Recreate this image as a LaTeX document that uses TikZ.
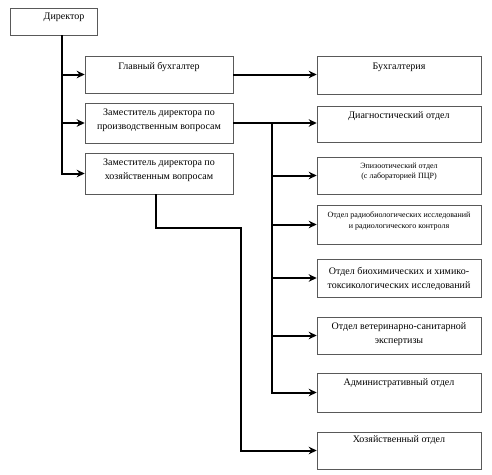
\documentclass[tikz,border=0pt]{standalone}
\usepackage{fontspec}
\setmainfont{Liberation Serif}
\usetikzlibrary{arrows.meta}
\tikzset{
  box/.style={draw=black!65, line width=0.6pt, fill=white, inner sep=0pt},
  txt/.style={anchor=north, inner sep=0pt, align=center, font=\fontsize{10}{14}\selectfont},
  smalltxt/.style={anchor=north, inner sep=0pt, align=center, font=\fontsize{8}{10.5}\selectfont},
  conn/.style={line width=2pt, line cap=butt, line join=miter},
  arr/.style={conn, -{Stealth[length=8pt,width=7.5pt]}}
}
\begin{document}
\begin{tikzpicture}[x=1pt,y=-1pt]
\useasboundingbox (0,0) rectangle (492,474);
% left column
\node[box, minimum width=87pt, minimum height=27pt] (dir) at (53.5,21.5) {};
\node[txt] (dirt) at ([xshift=10.5pt,yshift=-5pt]dir.north) {Директор};
\node[box, minimum width=148pt, minimum height=37pt] (gb) at (159,74.5) {};
\node[txt] (gbt) at ([yshift=-6pt]gb.north) {Главный бухгалтер};
\node[box, minimum width=148pt, minimum height=40pt] (zp) at (159,123) {};
\node[txt] (zpt) at ([yshift=-6pt]zp.north) {Заместитель директора по\\производственным вопросам};
\node[box, minimum width=148pt, minimum height=41pt] (zh) at (159,173.5) {};
\node[txt] (zht) at ([yshift=-6pt]zh.north) {Заместитель директора по\\хозяйственным вопросам};
% right column
\node[box, minimum width=164pt, minimum height=38pt] (buh) at (399,75) {};
\node[txt] (buht) at ([yshift=-7pt]buh.north) {Бухгалтерия};
\node[box, minimum width=164pt, minimum height=36pt] (diag) at (399,124) {};
\node[txt] (diagt) at ([yshift=-6pt]diag.north) {Диагностический отдел};
\node[box, minimum width=164pt, minimum height=37pt] (epi) at (399,175.5) {};
\node[smalltxt] (epit) at ([yshift=-6pt]epi.north) {Эпизоотический отдел\\(с лабораторией ПЦР)};
\node[box, minimum width=164pt, minimum height=39pt] (rad) at (399,224.5) {};
\node[smalltxt] (radt) at ([yshift=-7pt]rad.north) {Отдел радиобиологических исследований\\и радиологического контроля};
\node[box, minimum width=164pt, minimum height=38pt] (bio) at (399,278) {};
\node[txt] (biot) at ([yshift=-8pt]bio.north) {Отдел биохимических и химико-\\токсикологических исследований};
\node[box, minimum width=164pt, minimum height=37pt] (vet) at (399,335.5) {};
\node[txt] (vett) at ([yshift=-6pt]vet.north) {Отдел ветеринарно-санитарной\\экспертизы};
\node[box, minimum width=164pt, minimum height=39pt] (adm) at (399,392.5) {};
\node[txt] (admt) at ([yshift=-6pt]adm.north) {Административный отдел};
\node[box, minimum width=164pt, minimum height=37pt] (hoz) at (399,450.5) {};
\node[txt] (hozt) at ([yshift=-4pt]hoz.north) {Хозяйственный отдел};
% connectors
\coordinate (t) at (62,0);
\draw[conn] (dir.south -| t) -- (zh.west -| t);
\draw[arr] (dir.south -| t) |- (gb.west);
\draw[arr] (dir.south -| t) |- (zp.west);
\draw[arr] (dir.south -| t) |- (zh.west);
\draw[arr] (gb.east) -- (gb.east -| buh.west);
\coordinate (b) at (272,0);
\draw[arr] (zp.east) -- (zp.east -| diag.west);
\draw[conn] (zp.east -| b) -- (adm.west -| b);
\draw[arr] (zp.east -| b) |- (epi.west);
\draw[arr] (zp.east -| b) |- (rad.west);
\draw[arr] (zp.east -| b) |- (bio.west);
\draw[arr] (zp.east -| b) |- (vet.west);
\draw[arr] (zp.east -| b) |- (adm.west);
\coordinate (h1) at (156,228);
\coordinate (h2) at (241,228);
\draw[arr] (zh.south -| h1) -- (h1) -- (h2) |- (hoz.west);
\end{tikzpicture}
\end{document}
